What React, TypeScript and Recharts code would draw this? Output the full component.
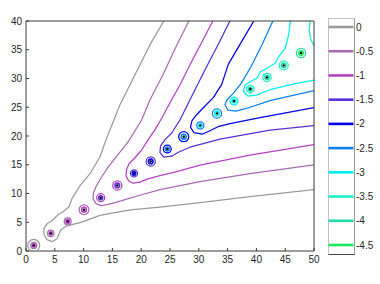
import React from 'react';
import { ComposedChart, Line, Scatter, XAxis, YAxis } from 'recharts';

// contour levels and their colours
const levels = [0, -0.5, -1, -1.5, -2, -2.5, -3, -3.5, -4, -4.5];
const levelColors = ['#9a9a9a', '#a86cb2', '#b442c2', '#5a2ed6', '#0000e8', '#0c7ff0', '#00eeee', '#1decc8', '#1edca8', '#1ee858'];

const xTicks = [0, 5, 10, 15, 20, 25, 30, 35, 40, 45, 50];
const yTicks = [0, 5, 10, 15, 20, 25, 30, 35, 40];

// source points (black markers)
const sourceX = [1.34, 4.29, 7.24, 10.07, 12.97, 15.85, 18.75, 21.65, 24.53, 27.38, 30.26, 33.16, 36.11, 38.94, 41.84, 44.74, 47.74];
const sourceY = [0.97, 3.06, 5.15, 7.18, 9.27, 11.41, 13.5, 15.58, 17.74, 19.88, 21.84, 23.93, 26.09, 28.17, 30.19, 32.28, 34.43];

// small closed contours around sources: source index, level, radius (data units)
const ringSource = [0, 0, 0, 1, 1, 2, 2, 3, 3, 4, 4, 5, 5, 6, 6, 7, 7, 8, 8, 9, 9, 10, 10, 11, 11, 12, 12, 13, 13, 14, 14, 15, 15, 16, 16];
const ringLevel = [0, -0.5, -1, -0.5, -1, -0.5, -1, -0.5, -1, -1, -1.5, -1, -1.5, -1.5, -2, -1.5, -2, -2, -2.5, -2, -2.5, -2.5, -3, -2.5, -3, -3, -3.5, -3.5, -4, -3.5, -4, -3.5, -4, -4, -4.5];
const ringRadius = [1.04, 0.52, 0.26, 0.55, 0.28, 0.6, 0.3, 0.85, 0.42, 0.7, 0.35, 0.8, 0.4, 0.62, 0.3, 0.8, 0.4, 0.68, 0.34, 0.87, 0.43, 0.62, 0.3, 0.8, 0.4, 0.68, 0.34, 0.65, 0.32, 0.72, 0.36, 0.78, 0.39, 0.8, 0.4];

// open contour lines, [x, y]
const contour0: [number, number][] = [
  [23.96, 40.05], [21.53, 35.88], [18.92, 30.66], [16.32, 25.44], [13.89, 19.36], [12.85, 16.4], [11.11, 13.44],
  [9.38, 11.36], [7.99, 9.1], [7.47, 7.7], [6.42, 6.84], [5.56, 6.31], [4.51, 5.27], [3.65, 4.75], [3.13, 3.88],
  [3.13, 2.83], [3.65, 1.97], [4.51, 1.62], [5.38, 2.14], [5.73, 3.01], [6.08, 3.7], [6.94, 4.31], [9.38, 4.92],
  [12.85, 6.2], [16.32, 6.83], [18.58, 7.18], [23.26, 7.62], [30.21, 8.4], [38.89, 9.44], [50, 10.66],
];
const contour05: [number, number][] = [
  [28.3, 40.05], [26.04, 35.53], [23.78, 30.66], [21.53, 26.31], [20.09, 22.83], [17.76, 19.01], [15.45, 16.1],
  [14.06, 14.31], [12.93, 12.57], [12.15, 11.18], [11.72, 10.14], [11.63, 9.1], [12.15, 8.23], [13.02, 7.88],
  [14.06, 8.05], [15.45, 8.4], [17.19, 8.92], [19.79, 9.7], [23.26, 10.66], [30.21, 12.05], [38.89, 13.44], [50, 15.0],
];
const contour10: [number, number][] = [
  [32.47, 40.05], [30.38, 36.05], [28.47, 32.4], [26.74, 28.92], [25.0, 25.79], [23.61, 23.18], [22.4, 21.1],
  [21.23, 19.36], [19.97, 17.44], [18.75, 16.05], [17.88, 15.18], [17.45, 14.14], [17.36, 13.1], [17.8, 12.23],
  [18.58, 11.79], [19.79, 11.97], [21.01, 12.49], [23.26, 13.1], [25.52, 13.62], [30.21, 14.92], [38.89, 16.66], [50, 18.49],
];
const contour15: [number, number][] = [
  [35.42, 40.05], [33.25, 35.7], [31.08, 31.53], [28.82, 27.01], [26.74, 22.83], [25.3, 20.52], [24.13, 19.36],
  [23.35, 18.23], [23.26, 17.1], [23.96, 16.31], [25.3, 16.49], [26.44, 17.18], [28.47, 18.05], [33.68, 19.44],
  [42.36, 21.01], [50, 21.79],
];
const contour20: [number, number][] = [
  [39.58, 40.05], [37.33, 36.23], [35.12, 32.46], [33.98, 28.97], [32.52, 26.67], [31.08, 25.22], [29.69, 23.79],
  [28.82, 22.66], [28.56, 21.53], [29.17, 20.57], [30.56, 20.31], [31.94, 20.92], [33.33, 21.62], [35.42, 22.14],
  [40.63, 23.18], [50, 24.92],
];
const contour25: [number, number][] = [
  [42.88, 40.05], [40.97, 35.88], [39.06, 32.05], [37.33, 29.1], [35.94, 27.36], [34.9, 26.31], [34.55, 25.44],
  [35.07, 24.49], [36.46, 24.31], [38.37, 24.83], [42.36, 26.14], [50, 27.88],
];
const contour30: [number, number][] = [
  [45.92, 40.05], [45.57, 37.44], [44.97, 35.18], [43.92, 33.88], [43.23, 32.66], [41.84, 31.79], [40.71, 31.18],
  [40.1, 30.05], [38.89, 29.44], [38.02, 28.83], [37.76, 27.79], [38.54, 26.92], [40.02, 27.1], [42.36, 28.05],
  [46.35, 29.01], [50, 29.7],
];
const contour35: [number, number][] = [
  [49.31, 40.05], [49.18, 38.31], [49.39, 36.92], [50, 35.7],
];

const openContours: { level: number; pts: [number, number][] }[] = [
  { level: 0, pts: contour0 },
  { level: -0.5, pts: contour05 },
  { level: -1, pts: contour10 },
  { level: -1.5, pts: contour15 },
  { level: -2, pts: contour20 },
  { level: -2.5, pts: contour25 },
  { level: -3, pts: contour30 },
  { level: -3.5, pts: contour35 },
];

const colorOf = (lv: number) => levelColors[levels.indexOf(lv)];

const sources = sourceX.map((x, i) => ({ x, y: sourceY[i] }));
const rings = ringSource.map((s, i) => ({ x: sourceX[s], y: sourceY[s], level: ringLevel[i], r: ringRadius[i] }));

const PX_PER_UNIT = 288 / 50;
const FONT = '"Liberation Sans", Arial, sans-serif';
const AXIS = '#3a3a3a';

const RingShape = (props: any) => {
  const { cx, cy, payload } = props;
  if (cx == null || cy == null) return null;
  const inner = payload.r < 0.45;
  return (
    <circle cx={cx} cy={cy} r={payload.r * PX_PER_UNIT} fill="none" stroke={colorOf(payload.level)} strokeWidth={inner ? 1.6 : 1.25} />
  );
};

const DotShape = (props: any) => {
  const { cx, cy } = props;
  if (cx == null || cy == null) return null;
  return <circle cx={cx} cy={cy} r={1.2} fill="#000" />;
};

const tickStyle = { fontSize: 10, fill: '#262626', fontFamily: FONT };

export default function App() {
  return (
    <div style={{ position: 'absolute', left: 0, top: 0, width: 380, height: 284, background: '#fff' }}>
      <ComposedChart width={380} height={284} margin={{ top: 0, right: 0, bottom: 0, left: 0 }}>
        <XAxis xAxisId={0} type="number" dataKey="x" domain={[0, 50]} ticks={xTicks} interval={0} height={33}
          tickSize={-3} tickMargin={8} stroke={AXIS} tick={tickStyle} allowDataOverflow />
        <XAxis xAxisId="top" orientation="top" type="number" dataKey="x" domain={[0, 50]} ticks={xTicks} interval={0}
          height={21} tickSize={-3} tick={false} stroke={AXIS} allowDataOverflow />
        <YAxis yAxisId={0} type="number" dataKey="y" domain={[0, 40]} ticks={yTicks} interval={0} width={26}
          tickSize={-3} tickMargin={7} stroke={AXIS} tick={tickStyle} allowDataOverflow />
        <YAxis yAxisId="right" orientation="right" type="number" domain={[0, 40]} ticks={yTicks} interval={0}
          width={66} tickSize={-3} tick={false} stroke={AXIS} allowDataOverflow />
        {openContours.map((c) => (
          <Line key={c.level} data={c.pts.map(([x, y]) => ({ x, y }))} dataKey="y" type="linear"
            stroke={colorOf(c.level)} strokeWidth={1.25} strokeLinejoin="round" dot={false} activeDot={false} isAnimationActive={false} />
        ))}
        <Scatter data={rings} dataKey="y" shape={RingShape} isAnimationActive={false} />
        <Scatter data={sources} dataKey="y" shape={DotShape} isAnimationActive={false} />
      </ComposedChart>

      <div style={{ position: 'absolute', left: 328, top: 18, width: 25, height: 235, borderLeft: '1px solid #c4c4c4', borderTop: '1px solid #c4c4c4', borderRight: '1px solid #9a9a9a', borderBottom: '1px solid #444' }} />
      <div style={{ position: 'absolute', left: 328, top: 0 }}>
        <ComposedChart width={52} height={284} margin={{ top: 18, right: 0, bottom: 30, left: 0 }}>
          <XAxis type="number" dataKey="x" domain={[0, 1]} hide allowDataOverflow />
          <YAxis type="number" dataKey="y" orientation="right" domain={[-4.686, 0.186]} ticks={levels} interval={0} width={26}
            axisLine={false} tickLine={false} tickSize={0} tickMargin={2} tick={tickStyle} allowDataOverflow />
          {levels.map((lv, i) => (
            <Line key={lv} data={[{ x: 0.02, y: lv }, { x: 0.98, y: lv }]} dataKey="y" type="linear"
              stroke={levelColors[i]} strokeWidth={2.6} dot={false} activeDot={false} isAnimationActive={false} />
          ))}
        </ComposedChart>
      </div>
    </div>
  );
}
